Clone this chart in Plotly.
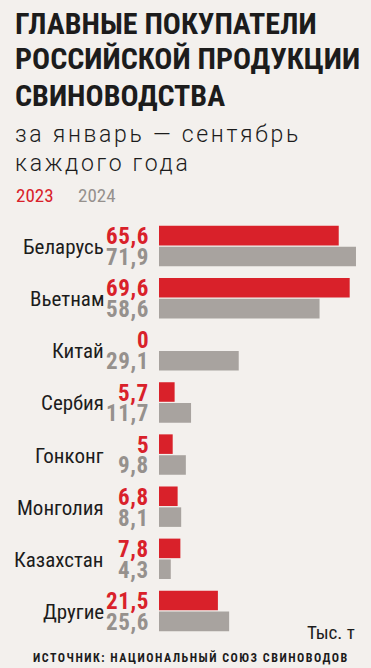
import plotly.graph_objects as go

# ---- data ----
countries = ["Беларусь", "Вьетнам", "Китай", "Сербия", "Гонконг", "Монголия", "Казахстан", "Другие"]
values_2023 = [65.6, 69.6, 0, 5.7, 5, 6.8, 7.8, 21.5]
values_2024 = [71.9, 58.6, 29.1, 11.7, 9.8, 8.1, 4.3, 25.6]
labels_2023 = ["65,6", "69,6", "0", "5,7", "5", "6,8", "7,8", "21,5"]
labels_2024 = ["71,9", "58,6", "29,1", "11,7", "9,8", "8,1", "4,3", "25,6"]
series_names = ["2023", "2024"]

title_lines = ["ГЛАВНЫЕ ПОКУПАТЕЛИ", "РОССИЙСКОЙ ПРОДУКЦИИ", "СВИНОВОДСТВА"]
subtitle_lines = ["за январь — сентябрь", "каждого года"]
unit_text = "Тыс. т"
source_text = "ИСТОЧНИК: НАЦИОНАЛЬНЫЙ СОЮЗ СВИНОВОДОВ"

# ---- style ----
W, H = 371, 668
L, R, T, B = 159, 12, 220, 31
PW, PH = W - L - R, H - T - B
RED = "#d9212a"
GRAY = "#a8a39f"
GRAY_TXT = "#96918d"
DARK = "#1c1c1c"
BG = "#f3f0ed"
FONT = "Roboto, sans-serif"
OFF = 0.2
BW = 0.375


def px(x):
    return (x - L) / PW


def py(y):
    return 1 - (y - T) / PH


def cond(s, extra=""):
    return '<span style="font-stretch:75%%;%s">%s</span>' % (extra, s)


idx = list(range(len(countries)))
y23 = [i - OFF for i in idx]
y24 = [i + OFF for i in idx]

fig = go.Figure()
fig.add_trace(go.Bar(x=values_2023, y=y23, orientation="h", width=BW,
                     marker=dict(color=RED, line=dict(width=0)), name=series_names[0],
                     hoverinfo="skip"))
fig.add_trace(go.Bar(x=values_2024, y=y24, orientation="h", width=BW,
                     marker=dict(color=GRAY, line=dict(width=0)), name=series_names[1],
                     hoverinfo="skip"))

ann = []
for i, c in enumerate(countries):
    ann.append(dict(x=0, y=i, xref="x", yref="y", text=cond(c), showarrow=False,
                    xanchor="right", yanchor="middle", xshift=-53, yshift=-1,
                    font=dict(family=FONT, size=21, color=DARK)))
    ann.append(dict(x=0, y=y23[i], xref="x", yref="y",
                    text=cond("<b>%s</b>" % labels_2023[i], "letter-spacing:0.6px"),
                    showarrow=False, xanchor="right", yanchor="middle", xshift=-8, yshift=-1,
                    font=dict(family=FONT, size=23, color=RED)))
    ann.append(dict(x=0, y=y24[i], xref="x", yref="y",
                    text=cond("<b>%s</b>" % labels_2024[i], "letter-spacing:0.6px"),
                    showarrow=False, xanchor="right", yanchor="middle", xshift=-8, yshift=-1,
                    font=dict(family=FONT, size=23, color=GRAY_TXT)))

# title lines
for line, yc in zip(title_lines, [23, 59, 95]):
    ann.append(dict(x=px(13), y=py(yc), xref="paper", yref="paper", text=cond("<b>%s</b>" % line),
                    showarrow=False, xanchor="left", yanchor="middle",
                    font=dict(family=FONT, size=30, color=DARK)))
for line, yc in zip(subtitle_lines, [135, 164]):
    ann.append(dict(x=px(13), y=py(yc), xref="paper", yref="paper",
                    text='<span style="letter-spacing:2.7px">%s</span>' % line,
                    showarrow=False, xanchor="left", yanchor="middle",
                    font=dict(family=FONT, size=23, color=DARK, weight=300)))
# legend
ann.append(dict(x=px(14), y=py(196), xref="paper", yref="paper", text=cond(series_names[0]),
                showarrow=False, xanchor="left", yanchor="middle",
                font=dict(family=FONT, size=19, color=RED)))
ann.append(dict(x=px(76), y=py(196), xref="paper", yref="paper", text=cond(series_names[1]),
                showarrow=False, xanchor="left", yanchor="middle",
                font=dict(family=FONT, size=19, color=GRAY_TXT)))
# unit
ann.append(dict(x=px(357), y=py(632), xref="paper", yref="paper", text=cond(unit_text),
                showarrow=False, xanchor="right", yanchor="middle",
                font=dict(family=FONT, size=19, color=DARK)))
# source
ann.append(dict(x=px(351), y=py(657), xref="paper", yref="paper",
                text=cond("<b>%s</b>" % source_text, "letter-spacing:1.5px"),
                showarrow=False, xanchor="right", yanchor="middle",
                font=dict(family=FONT, size=12, color=DARK)))

fig.update_layout(
    width=W, height=H,
    margin=dict(l=L, r=R, t=T, b=B, pad=0),
    paper_bgcolor=BG, plot_bgcolor=BG,
    showlegend=False,
    barmode="overlay",
    annotations=ann,
    xaxis=dict(range=[0, 73], visible=False, fixedrange=True),
    yaxis=dict(range=[len(countries) - 0.5, -0.5], visible=False, fixedrange=True),
)

fig.write_html("out.html", config={"displayModeBar": False},
               post_script="document.body.style.margin='0';")
